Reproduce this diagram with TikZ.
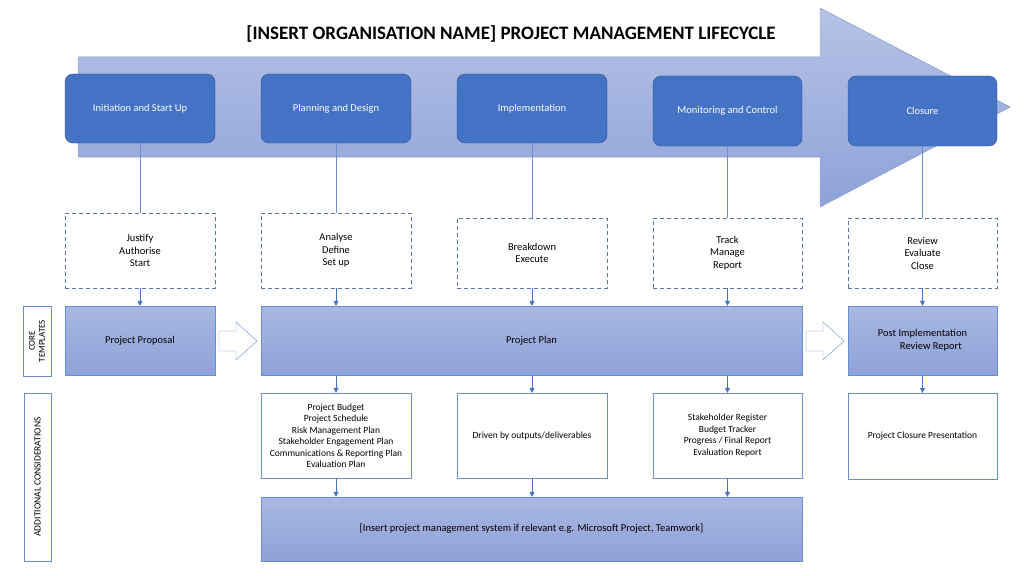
\documentclass[tikz,border=0pt]{standalone}
\usepackage{fontspec}
\setmainfont{Carlito}
\usetikzlibrary{arrows.meta}
\definecolor{ph}{HTML}{4472C4}
\definecolor{phd}{HTML}{2F528F}
\definecolor{lb}{HTML}{A9B8E2}
\definecolor{db}{HTML}{8EA2D8}
\begin{document}
\begin{tikzpicture}[x=1pt,y=-1pt,
 phase/.style={draw=phd,fill=ph,rounded corners=8pt,text=white,font=\fontsize{10.5}{12}\selectfont,align=center},
 dbox/.style={draw=phd!80,dash pattern=on 4pt off 3pt,thick,fill=white,font=\fontsize{10.5}{12.5}\selectfont,align=center},
 core/.style={draw=ph!80,top color=lb,bottom color=db,font=\fontsize{10.5}{13}\selectfont,align=center},
 add/.style={draw=ph!80,fill=white,font=\fontsize{9.5}{11.5}\selectfont,align=center},
 lab/.style={draw=ph!80,fill=white},
 ln/.style={draw=ph!80},
 ar/.style={draw=ph,-{Triangle[length=5pt,width=5pt]}},
 hol/.style={draw=ph!80,fill=white}]
\useasboundingbox (0,0) rectangle (1024,575);
\fill[top color=lb!85,bottom color=db, draw=ph!60] (78,57) -- (820,57) -- (820,8) -- (1010,107) -- (820,207) -- (820,157) -- (78,157) -- cycle;
\node[font=\bfseries\fontsize{19}{22}\selectfont] (title) at (511,34) {[INSERT ORGANISATION NAME] PROJECT MANAGEMENT LIFECYCLE};
% phases
\node[phase,minimum width=150pt,minimum height=69pt] (p1) at (140,108.5) {Initiation and Start Up};
\node[phase,minimum width=150pt,minimum height=69pt] (p2) at (336,108.5) {Planning and Design};
\node[phase,minimum width=150pt,minimum height=69pt] (p3) at (532,108.5) {Implementation};
\node[phase,minimum width=149pt,minimum height=70pt] (p4) at (727.5,111) {Monitoring and Control};
\node[phase,minimum width=149pt,minimum height=70pt] (p5) at (922.5,111) {Closure};
% dashed
\node[dbox,minimum width=150pt,minimum height=75pt] (d1) at (140,250.5) {Justify\\Authorise\\Start};
\node[dbox,minimum width=150pt,minimum height=75pt] (d2) at (336,250.5) {Analyse\\Define\\Set up};
\node[dbox,minimum width=150pt,minimum height=70pt] (d3) at (532,253) {Breakdown\\Execute};
\node[dbox,minimum width=149pt,minimum height=70pt] (d4) at (727.5,253) {Track\\Manage\\Report};
\node[dbox,minimum width=149pt,minimum height=70pt] (d5) at (922.5,253) {Review\\Evaluate\\Close};
\foreach \i in {1,...,5} \draw[ln] (p\i) -- (d\i);
% core
\node[core,minimum width=150pt,minimum height=69pt] (c1) at (140,340.5) {Project Proposal};
\node[core,minimum width=541pt,minimum height=69pt] (c2) at (531.5,340.5) {Project Plan};
\node[core,minimum width=149pt,minimum height=69pt] (c5) at (922.5,340.5) {Post Implementation\\\hspace*{1.6em}Review Report};
\coordinate (c2a) at (336,375);
\coordinate (c2b) at (532,375);
\coordinate (c2c) at (727.5,375);
\draw[ar] (d1) -- (c1);
\draw[ar] (d2.south) -- (d2.south |- c2.north);
\draw[ar] (d3.south) -- (d3.south |- c2.north);
\draw[ar] (d4.south) -- (d4.south |- c2.north);
\draw[ar] (d5) -- (c5);
\coordinate (h1) at (219,341);
\coordinate (h2) at (806,341);
\foreach \h in {h1,h2}
 \draw[hol] (\h) ++(0,-10) -- ++(17,0) -- ++(0,-9) -- ++(21,19) -- ++(-21,19) -- ++(0,-9) -- ++(-17,0) -- cycle;
% labels
\node[lab,minimum width=28pt,minimum height=70pt] (l1) at (37,341) {};
\node[rotate=90,font=\fontsize{9}{10}\selectfont,align=center] (l1t) at (l1) {CORE\\TEMPLATES};
\node[lab,minimum width=27pt,minimum height=168pt] (l2) at (37.5,477) {};
\node[rotate=90,font=\fontsize{9.5}{10}\selectfont] (l2t) at (l2) {ADDITIONAL CONSIDERATIONS};
% additional
\node[add,minimum width=150pt,minimum height=85pt] (a2) at (336,435.5) {Project Budget\\Project Schedule\\Risk Management Plan\\Stakeholder Engagement Plan\\Communications \& Reporting Plan\\Evaluation Plan};
\node[add,minimum width=150pt,minimum height=85pt] (a3) at (532,435.5) {Driven by outputs/deliverables};
\node[add,minimum width=149pt,minimum height=85pt] (a4) at (727.5,435.5) {Stakeholder Register\\Budget Tracker\\Progress / Final Report\\Evaluation Report};
\node[add,minimum width=149pt,minimum height=86pt] (a5) at (922.5,436) {Project Closure Presentation};
\draw[ar] (c2a) -- (a2);
\draw[ar] (c2b) -- (a3);
\draw[ar] (c2c) -- (a4);
\draw[ar] (c5) -- (a5);
\node[core,minimum width=541pt,minimum height=64pt] (b) at (531.5,529) {[Insert project management system if relevant e.g. Microsoft Project, Teamwork]};
\draw[ar] (a2.south) -- (a2.south |- b.north);
\draw[ar] (a3.south) -- (a3.south |- b.north);
\draw[ar] (a4.south) -- (a4.south |- b.north);
\end{tikzpicture}
\end{document}
